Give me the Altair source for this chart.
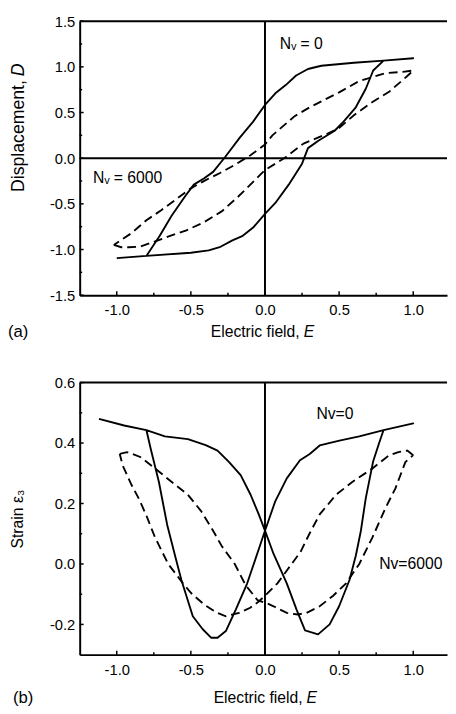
import altair as alt
import pandas as pd

FONT = "Liberation Sans"

# ---------------- data ----------------
E_MAJOR = [-1.0, -0.5, 0.0, 0.5, 1.0]
E_MINOR = [-0.75, -0.25, 0.25, 0.75]
D_MAJOR = [-1.5, -1.0, -0.5, 0.0, 0.5, 1.0, 1.5]
D_MINOR = [-1.25, -0.75, -0.25, 0.25, 0.75, 1.25]
S_MAJOR = [-0.2, 0.0, 0.2, 0.4, 0.6]
S_MINOR = [-0.1, 0.1, 0.3, 0.5]

# (a) displacement loop, N_V = 0 (solid)
a_solid_E = [-1.0, -0.8, -0.5, -0.38, -0.3, -0.22, -0.15, -0.08, 0.0, 0.07, 0.16, 0.25, 0.29, 0.36,
             0.47, 0.53, 0.61, 0.68, 0.73, 0.8, 1.0, 0.8, 0.6, 0.38, 0.29, 0.21, 0.14, 0.07, 0.0,
             -0.08, -0.17, -0.27, -0.35, -0.41, -0.48, -0.54, -0.63, -0.71, -0.8, -1.0]
a_solid_D = [-1.095, -1.07, -1.035, -1.01, -0.97, -0.9, -0.85, -0.76, -0.61, -0.49, -0.29, -0.06, 0.11,
             0.19, 0.3, 0.4, 0.55, 0.76, 0.96, 1.068, 1.094, 1.068, 1.045, 1.012, 0.976, 0.905, 0.8,
             0.71, 0.583, 0.4, 0.225, 0.01, -0.15, -0.22, -0.29, -0.42, -0.63, -0.85, -1.07, -1.095]
# (a) displacement loop, N_V = 6000 (dashed)
a_dash_E = [-1.02, -0.97, -0.92, -0.84, -0.74, -0.64, -0.53, -0.41, -0.29, -0.18, -0.08, 0.0, 0.13,
            0.26, 0.41, 0.5, 0.6, 0.72, 0.84, 0.96, 1.0, 0.93, 0.81, 0.63, 0.5, 0.3, 0.2, 0.05, 0.0,
            -0.1, -0.2, -0.3, -0.4, -0.5, -0.6, -0.7, -0.8, -0.9, -1.02]
a_dash_D = [-0.95, -0.975, -0.975, -0.968, -0.91, -0.85, -0.79, -0.70, -0.58, -0.42, -0.26, -0.13, 0.0,
            0.16, 0.26, 0.33, 0.47, 0.61, 0.73, 0.9, 0.96, 0.945, 0.93, 0.84, 0.72, 0.555, 0.46, 0.25,
            0.15, 0.03, -0.07, -0.16, -0.24, -0.33, -0.45, -0.57, -0.68, -0.82, -0.95]

# (b) strain butterfly, Nv = 0 (solid)
b_solid_E = [-1.12, -0.95, -0.8, -0.675, -0.52, -0.4, -0.32, -0.242, -0.164, -0.097, -0.042, 0.0, 0.058,
             0.147, 0.213, 0.27, 0.358, 0.436, 0.5, 0.57, 0.613, 0.647, 0.68, 0.73, 0.77, 0.8, 1.0, 0.8,
             0.636, 0.502, 0.369, 0.302, 0.236, 0.147, 0.069, 0.0, -0.053, -0.12, -0.197, -0.264, -0.32,
             -0.364, -0.42, -0.487, -0.564, -0.604, -0.66, -0.716, -0.771, -0.8]
b_solid_S = [0.48, 0.458, 0.443, 0.422, 0.413, 0.393, 0.375, 0.337, 0.294, 0.229, 0.164, 0.11, 0.033,
             -0.064, -0.151, -0.22, -0.233, -0.2, -0.14, -0.053, 0.028, 0.11, 0.218, 0.34, 0.40, 0.443,
             0.465, 0.443, 0.422, 0.408, 0.392, 0.364, 0.343, 0.283, 0.207, 0.11, 0.033, -0.064, -0.151,
             -0.222, -0.244, -0.244, -0.216, -0.173, -0.053, 0.022, 0.13, 0.272, 0.381, 0.443]
# (b) strain butterfly, Nv = 6000 (dashed), two branches
b_dashA_E = [1.0, 0.96, 0.9, 0.836, 0.725, 0.591, 0.48, 0.369, 0.3, 0.24, 0.15, 0.084, 0.0, -0.042,
             -0.1, -0.175, -0.264, -0.33, -0.409, -0.497, -0.56, -0.653, -0.742, -0.8, -0.853, -0.9,
             -0.96, -0.98]
b_dashA_S = [0.36, 0.375, 0.37, 0.359, 0.316, 0.272, 0.229, 0.164, 0.1, 0.04, -0.02, -0.064, -0.105,
             -0.124, -0.145, -0.162, -0.173, -0.16, -0.135, -0.097, -0.06, 0.0, 0.088, 0.16, 0.218,
             0.261, 0.326, 0.364]
b_dashB_E = [-0.98, -0.93, -0.842, -0.742, -0.631, -0.52, -0.431, -0.35, -0.293, -0.204, -0.131, -0.05,
             0.013, 0.058, 0.147, 0.22, 0.28, 0.369, 0.46, 0.547, 0.636, 0.725, 0.813, 0.88, 0.947, 1.0]
b_dashB_S = [0.364, 0.37, 0.354, 0.316, 0.272, 0.229, 0.175, 0.11, 0.06, 0.0, -0.07, -0.12, -0.13, -0.14,
             -0.162, -0.167, -0.162, -0.14, -0.105, -0.064, 0.0, 0.088, 0.185, 0.25, 0.337, 0.36]

a_note_text = ["Nᵥ = 0", "Nᵥ = 6000"]
a_note_E = [0.1, -1.16]
a_note_D = [1.25, -0.22]
b_note_text = ["Nv=0", "Nv=6000"]
b_note_E = [0.347, 0.77]
b_note_S = [0.495, 0.0]

X_TITLE = ["Electric field,", "E"]
A_Y_TITLE = ["Displacement,", "D"]
B_Y_TITLE = "Strain ε₃"

# ---------------- helpers ----------------
W = 374
X_DOMAIN = [-1.25, 1.228]
LABEL_EXPR = "(datum.value < -0.001 ? '-' : '') + format(abs(datum.value), '.1f')"


def path(xs, ys, name):
    return pd.DataFrame({"E": xs, "v": ys, "i": list(range(len(xs))), "s": name})


def label(text, x, y, size, align="left", italic=False, angle=0):
    kw = dict(align=align, baseline="middle", font=FONT, fontSize=size, color="black",
              fontStyle="italic" if italic else "normal")
    if angle:
        kw["angle"] = angle
    return alt.Chart(pd.DataFrame({"t": [text]})).mark_text(**kw).encode(
        x=alt.value(x), y=alt.value(y), text="t:N")


def panel(solid, dashed, notes, ydom, ymajor, yminor, ytitle, height, xtitle_pos, tag, tag_x,
          hzero, ytitle_layers):
    xs = alt.Scale(domain=X_DOMAIN, nice=False, zero=False)
    ys = alt.Scale(domain=ydom, nice=False, zero=False)
    xaxis = alt.Axis(values=E_MAJOR, labelExpr=LABEL_EXPR, ticks=False,
                     domainColor="black", domainWidth=2,
                     labelFont=FONT, labelFontSize=15, labelColor="black", labelPadding=8,
                     labelFlush=False, labelOverlap=False, grid=False, title=None)
    ykw = dict(values=ymajor, labelExpr=LABEL_EXPR, ticks=False,
               domainColor="black", domainWidth=2,
               labelFont=FONT, labelFontSize=15, labelColor="black", labelPadding=5,
               labelFlush=False, labelOverlap=False, grid=False)
    if ytitle:
        ykw.update(title=ytitle, titleFont=FONT, titleFontSize=16, titleFontWeight="normal",
                   titleColor="black", titleX=-63, titleY=height / 2, titleBaseline="middle",
                   titleAlign="center")
    else:
        ykw.update(title=None)
    yaxis = alt.Axis(**ykw)
    X = lambda: alt.X("E:Q", scale=xs, axis=xaxis)
    Y = lambda: alt.Y("v:Q", scale=ys, axis=yaxis)

    base = alt.Chart(solid).mark_line(color="black", strokeWidth=1.9, strokeJoin="round").encode(
        x=X(), y=Y(), order="i:Q", detail="s:N")
    dash = alt.Chart(dashed).mark_line(color="black", strokeWidth=1.9, strokeDash=[9, 5]).encode(
        x=X(), y=Y(), order="i:Q", detail="s:N")
    layers = [base, dash]
    layers.append(alt.Chart(pd.DataFrame({"E": [0.0]})).mark_rule(color="black", strokeWidth=2)
                  .encode(x=X()))
    if hzero:
        layers.append(alt.Chart(pd.DataFrame({"v": [0.0]})).mark_rule(color="black", strokeWidth=2)
                      .encode(y=Y()))
    # inward tick marks on bottom and left axes
    for vals, ln in ((E_MAJOR, 4), (E_MINOR, 2.5)):
        layers.append(alt.Chart(pd.DataFrame({"E": vals})).mark_rule(color="black", strokeWidth=1.5)
                      .encode(x=X(), y=alt.value(height), y2=alt.value(height - ln)))
    for vals, ln in ((ymajor, 4), (yminor, 2.5)):
        layers.append(alt.Chart(pd.DataFrame({"v": vals})).mark_rule(color="black", strokeWidth=1.5)
                      .encode(y=Y(), x=alt.value(0), x2=alt.value(ln)))
    # top frame line
    layers.append(alt.Chart(pd.DataFrame({"k": [0]})).mark_rule(color="black", strokeWidth=2)
                  .encode(x=alt.value(0), x2=alt.value(W), y=alt.value(0)))
    layers.append(alt.Chart(notes).mark_text(align="left", baseline="middle", font=FONT,
                                             fontSize=16, color="black")
                  .encode(x=X(), y=Y(), text="t:N"))
    # x title "Electric field, E" (italic E), panel tag
    tx, ty = xtitle_pos
    layers.append(label(X_TITLE[0], tx, height + ty, 16, align="right"))
    layers.append(label(X_TITLE[1], tx + 4, height + ty, 16, align="left", italic=True))
    layers.append(label(tag, tag_x, height + ty, 17))
    layers.extend(ytitle_layers)
    return alt.layer(*layers).properties(width=W, height=height)


a_solid = path(a_solid_E, a_solid_D, "N0")
a_dash = path(a_dash_E, a_dash_D, "N6000")
a_notes = pd.DataFrame({"E": a_note_E, "v": a_note_D, "t": a_note_text})
b_solid = path(b_solid_E, b_solid_S, "N0")
b_dash = pd.concat([path(b_dashA_E, b_dashA_S, "A"), path(b_dashB_E, b_dashB_S, "B")])
b_notes = pd.DataFrame({"E": b_note_E, "v": b_note_S, "t": b_note_text})

HA, HB = 279, 277
a_ytitle = [label(A_Y_TITLE[0], -62, 60, 18, align="right", angle=270),
            label(A_Y_TITLE[1], -62, 56, 18, align="left", italic=True, angle=270)]
pa = panel(a_solid, a_dash, a_notes, [-1.5, 1.5], D_MAJOR, D_MINOR, None, HA, (224, 37.5),
           "(a)", -73, True, a_ytitle)
pb = panel(b_solid, b_dash, b_notes, [-0.3, 0.6], S_MAJOR, S_MINOR, B_Y_TITLE, HB, (227, 44),
           "(b)", -68, False, [])

chart = alt.vconcat(pa, pb, spacing=89, bounds="flush").properties(
    padding={"left": 0, "top": 0, "right": 0, "bottom": 0}, background="white"
).configure_view(stroke=None)

chart.save("out.html", embed_options={"renderer": "svg", "actions": False})
